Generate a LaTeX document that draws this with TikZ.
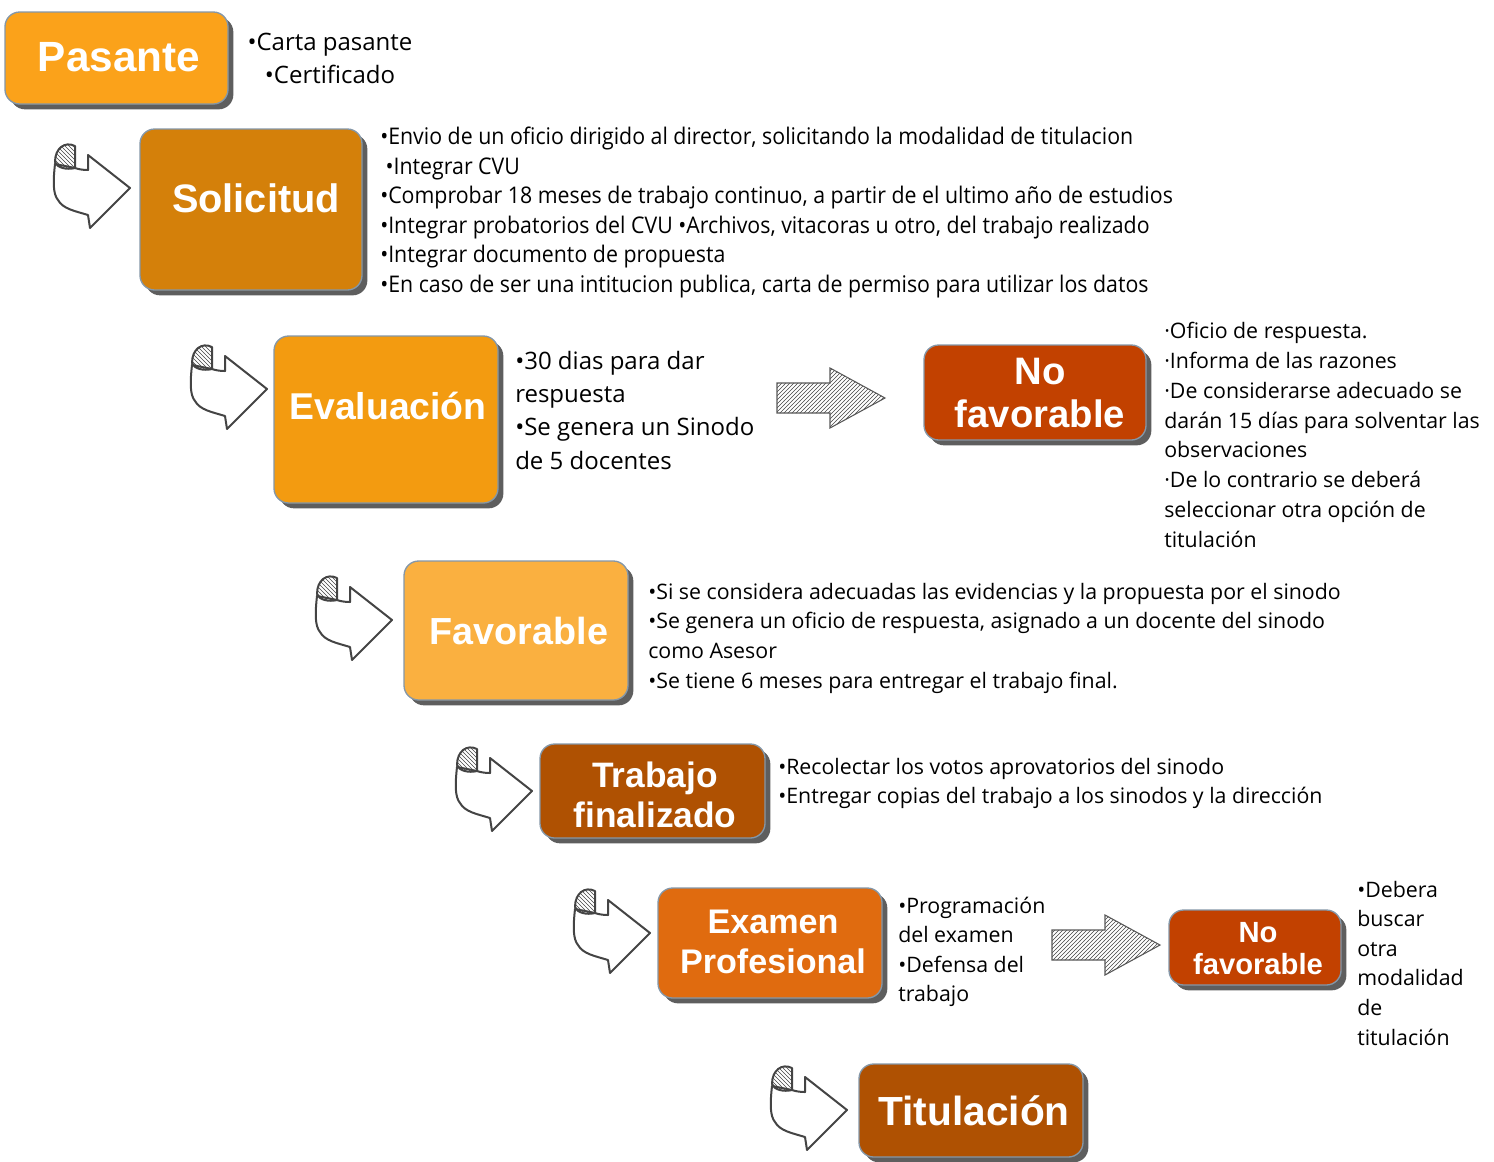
\documentclass[tikz,border=0pt]{standalone}
\usepackage{fontspec}
\setmainfont{Open Sans}
\newfontfamily\titlefont{Liberation Sans}
\newfontfamily\narrowfont{Open Sans}[FakeStretch=0.93]
\usepackage{tikz}
\usetikzlibrary{shadows,patterns}

\definecolor{pasantecol}{HTML}{FBA21A}
\definecolor{solicitudcol}{HTML}{D4800A}
\definecolor{evalcol}{HTML}{F39B10}
\definecolor{nofavcol}{HTML}{C24100}
\definecolor{favcol}{HTML}{FAB040}
\definecolor{trabajocol}{HTML}{AF5102}
\definecolor{examencol}{HTML}{E06B0F}
\definecolor{edgecol}{HTML}{8497A8}
\definecolor{inkcol}{HTML}{444444}

\begin{document}
\begin{tikzpicture}[x=0.75pt,y=-0.75pt]

	\tikzstyle stage box=[draw=edgecol, line width=1pt, rounded corners=11pt,
		drop shadow={shadow xshift=4pt, shadow yshift=-4pt, fill=black!70, opacity=0.9}];
	\tikzstyle stage title=[text=white, align=center, anchor=base, inner sep=0pt];
	\tikzstyle note text=[align=left, anchor=base west, inner sep=0pt];
	\tikzstyle curl lines=[draw=inkcol, line width=1.5pt, line join=round, fill=white];
	\tikzstyle hatch arrow=[draw=inkcol!90, line width=0.8pt, pattern=north east lines, pattern color=inkcol];

	\useasboundingbox (0,0) rectangle (1494,1161);

	% boxes
	\node[stage box, fill=pasantecol, minimum width=167.25pt, minimum height=69pt] (pasante) at (116.5,58) {};
	\node[stage box, fill=solicitudcol, minimum width=166.5pt, minimum height=120.75pt] (solicitud) at (251,209.5) {};
	\node[stage box, fill=evalcol, minimum width=168pt, minimum height=125.25pt] (evaluacion) at (386,419.5) {};
	\node[stage box, fill=nofavcol, minimum width=166.5pt, minimum height=71.25pt] (nofavA) at (1035,392.5) {};
	\node[stage box, fill=favcol, minimum width=168pt, minimum height=104.25pt] (favorable) at (516,630.5) {};
	\node[stage box, fill=trabajocol, minimum width=168.75pt, minimum height=70.5pt] (trabajo) at (652.5,791) {};
	\node[stage box, fill=examencol, minimum width=168pt, minimum height=82.5pt] (examen) at (770,943) {};
	\node[stage box, fill=nofavcol, minimum width=129pt, minimum height=56.25pt] (nofavB) at (1255,947.5) {};
	\node[stage box, fill=trabajocol, minimum width=168pt, minimum height=69.75pt] (titulacion) at (971,1110.5) {};

	% titles (base = last line)
	\node[stage title, font=\titlefont\bfseries\fontsize{31.7}{32}\selectfont] (pasanteT) at (119,71) {Pasante};
	\node[stage title, font=\titlefont\bfseries\fontsize{29.8}{32}\selectfont] (solicitudT) at (256,212) {Solicitud};
	\node[stage title, font=\titlefont\bfseries\fontsize{28}{32}\selectfont] (evaluacionT) at (388,419) {Evaluación};
	\node[stage title, font=\titlefont\bfseries\fontsize{28.7}{32.2}\selectfont] (nofavAT) at (1040,427) {No\\favorable};
	\node[stage title, font=\titlefont\bfseries\fontsize{28.3}{32}\selectfont] (favorableT) at (519,644) {Favorable};
	\node[stage title, font=\titlefont\bfseries\fontsize{26.5}{30}\selectfont] (trabajoT) at (655,827) {Trabajo\\finalizado};
	\node[stage title, font=\titlefont\bfseries\fontsize{25.6}{30}\selectfont] (examenT) at (773,973) {Examen\\Profesional};
	\node[stage title, font=\titlefont\bfseries\fontsize{21.9}{24}\selectfont] (nofavBT) at (1258,974) {No\\favorable};
	\node[stage title, font=\titlefont\bfseries\fontsize{30.5}{32}\selectfont] (titulacionT) at (974,1125) {Titulación};

	% notes
	\node[align=center, anchor=base, inner sep=0pt, font=\fontsize{18}{24.75}\selectfont] (pasanteN) at (330,83)
		{•Carta pasante\\•Certificado};
	\node[note text, font=\narrowfont\fontsize{17.2}{22.1}\selectfont] (solicitudN) at (380,292.3)
		{•Envio de un oficio dirigido al director, solicitando la modalidad de titulacion\\
		\hspace*{4pt}•Integrar CVU\\
		•Comprobar 18 meses de trabajo continuo, a partir de el ultimo año de estudios\\
		•Integrar probatorios del CVU •Archivos, vitacoras u otro, del trabajo realizado\\
		•Integrar documento de propuesta\\
		•En caso de ser una intitucion publica, carta de permiso para utilizar los datos};
	\node[note text, font=\fontsize{18}{25.1}\selectfont] (evaluacionN) at (515,469.4)
		{•30 dias para dar\\respuesta\\•Se genera un Sinodo\\de 5 docentes};
	\node[note text, font=\fontsize{16}{22.3}\selectfont] (nofavAN) at (1164,547.1)
		{·Oficio de respuesta.\\·Informa de las razones\\·De considerarse adecuado se\\
		darán 15 días para solventar las\\observaciones\\·De lo contrario se deberá\\
		seleccionar otra opción de\\titulación};
	\node[note text, font=\fontsize{16}{22.3}\selectfont] (favorableN) at (648,688.2)
		{•Si se considera adecuadas las evidencias y la propuesta por el sinodo\\
		•Se genera un oficio de respuesta, asignado a un docente del sinodo\\
		como Asesor\\
		•Se tiene 6 meses para entregar el trabajo final.};
	\node[note text, font=\fontsize{16}{21.9}\selectfont] (trabajoN) at (778,803.2)
		{•Recolectar los votos aprovatorios del sinodo\\•Entregar copias del trabajo a los sinodos y la dirección};
	\node[note text, font=\fontsize{16}{22.2}\selectfont] (examenN) at (898,1001.8)
		{•Programación\\del examen\\•Defensa del\\trabajo};
	\node[note text, font=\fontsize{16}{22.2}\selectfont] (nofavBN) at (1357,1045)
		{•Debera\\buscar\\otra\\modalidad\\de\\titulación};

	% curled arrows
	\foreach \x/\y in {53/142,190/343,315/574,455/745,573/887,770/1064}
	{
		\draw[curl lines, shift={(\x,\y)}] (2,22) .. controls (0,40) and (0,52) .. (5,58)
			.. controls (10,67) and (22,69) .. (35,73) -- (37,86) -- (77,46) -- (35,13) -- (35,28)
			.. controls (29,28) and (25,27) .. (22,26) -- cycle;
		\draw[curl lines, shift={(\x,\y)}, pattern=north west lines, pattern color=inkcol]
			(22,26) -- (22,4) .. controls (12,-1) and (2,6) .. (2,20) .. controls (4,26) and (14,28) .. (22,26) -- cycle;
	}

	% hatched arrows
	\foreach \x/\y in {777/368,1052/915}
		\draw[hatch arrow, shift={(\x,\y)}] (0,15) -- (53,15) -- (53,0) -- (108,30) -- (53,60) -- (53,45) -- (0,45) -- cycle;

\end{tikzpicture}
\end{document}
